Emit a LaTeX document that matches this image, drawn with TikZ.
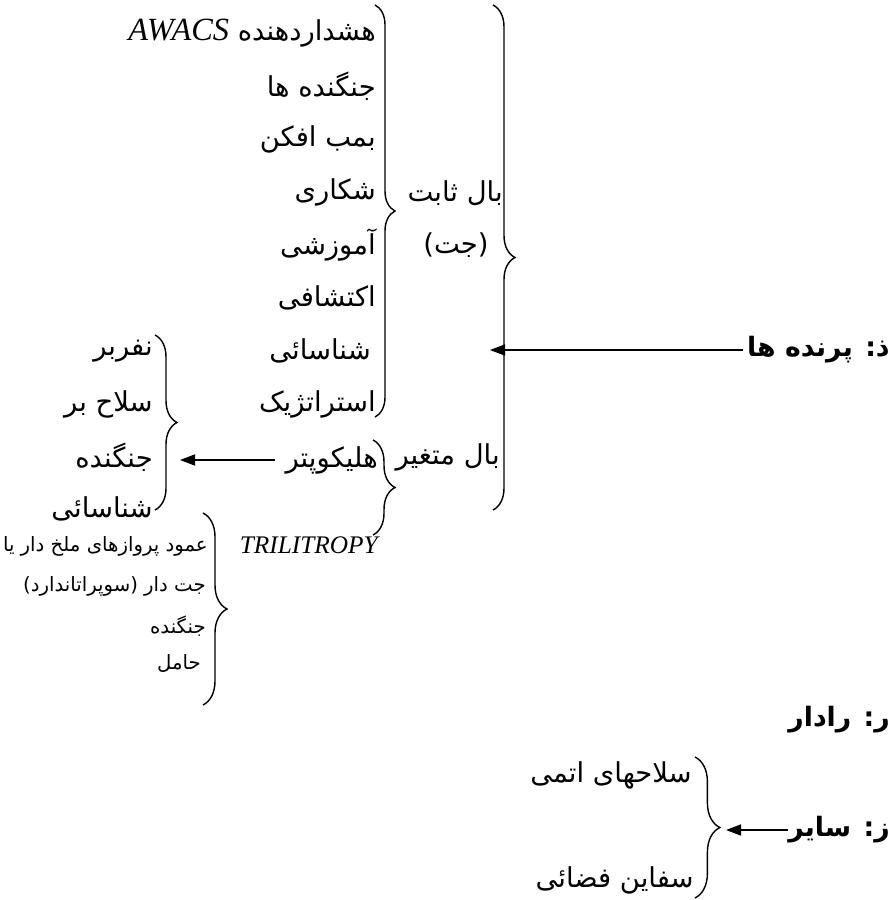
\documentclass[tikz,border=0pt]{standalone}
\usepackage{fontspec}
\usetikzlibrary{decorations.pathreplacing,arrows.meta}
\TeXXeTstate=1
\newfontfamily\fa[Script=Arabic]{DejaVu Sans}
\newfontfamily\latin{Liberation Serif}
\newcommand{\rl}[1]{\beginR #1\endR}
\tikzset{
  item/.style={font=\fa\fontsize{19.5}{22}\selectfont,inner sep=0pt,anchor=east},
  smallitem/.style={font=\fa\fontsize{14}{17}\selectfont,inner sep=0pt,anchor=east},
  head/.style={font=\fa\bfseries\fontsize{19}{22}\selectfont,inner sep=0pt,anchor=east},
  brc/.style={decorate,decoration={brace,amplitude=#1},line width=1pt},
  brc/.default=0.55cm,
  arr/.style={-{Triangle[length=0.38cm,width=0.28cm]},line width=1pt}
}
\begin{document}
\begin{tikzpicture}[x=0.025cm,y=-0.025cm]
        \useasboundingbox (0,0) rectangle (892,900);

        %% braces
        \draw[brc] (493,5) -- (493,510);
        \draw[brc=0.5cm] (375,5) -- (375,417);
        \draw[brc] (373,440) -- (373,535);
        \draw[brc] (155,335) -- (155,510);
        \draw[brc=0.6cm] (203,513) -- (203,705);
        \draw[brc=0.62cm] (695,757) -- (695,898);

        %% fixed wing
        \node (awacs) at (376,33) [item] {\rl{هشداردهنده \beginL{\latin\itshape\fontsize{23}{25}\selectfont AWACS}\endL}};
        \node (fighters) at (376,86) [item] {\rl{جنگنده ها}};
        \node (bomber) at (376,139) [item] {\rl{بمب افکن}};
        \node (hunter) at (376,192) [item] {\rl{شکاری}};
        \node (trainer) at (376,245) [item] {\rl{آموزشی}};
        \node (explore) at (376,298) [item] {\rl{اکتشافی}};
        \node (recon) at (371,351) [item] {\rl{شناسائی}};
        \node (strategic) at (376,404) [item] {\rl{استراتژیک}};
        \node (fixed) at (503,193) [item] {\rl{بال ثابت}};
        \node (jet) at (456,245) [item,anchor=center] {\rl{(جت)}};

        %% rotary wing
        \node (heli) at (378,460) [item] {\rl{هلیکوپتر}};
        \node (rotary) at (500,457) [item] {\rl{بال متغیر}};
        \node (trili) at (378,545) [inner sep=0pt,anchor=east,font=\latin\itshape\fontsize{18}{20}\selectfont] {TRILITROPY};

        %% helicopter kinds
        \node (carrier) at (153,351) [item] {\rl{نفربر}};
        \node (armed) at (153,404) [item] {\rl{سلاح بر}};
        \node (hfighter) at (153,457) [item] {\rl{جنگنده}};
        \node (hrecon) at (153,509) [item] {\rl{شناسائی}};

        %% vertical take-off
        \node (vtol) at (208,546) [smallitem] {\rl{عمود پروازهای ملخ دار یا}};
        \node (jetdar) at (206,586) [smallitem] {\rl{جت دار (سوپراتاندارد)}};
        \node (vfighter) at (206,626) [smallitem] {\rl{جنگنده}};
        \node (bearer) at (201,664) [smallitem] {\rl{حامل}};

        %% headings
        \node (dhal) at (890,350) [head] {\rl{ذ: پرنده ها}};
        \node (radar) at (890,720) [head] {\rl{ر: رادار}};
        \node (zayer) at (890,830) [head] {\rl{ز: سایر}};
        \node (atomic) at (692,775) [item] {\rl{سلاحهای اتمی}};
        \node (space) at (694,880) [item] {\rl{سفاین فضائی}};

        %% arrows
        \coordinate (dhaltip) at (490,350);
        \coordinate (helitip) at (180,460);
        \coordinate (zayertip) at (726,830);
        \draw[arr,shorten <=0.1cm] (dhal.west) -- (dhaltip);
        \draw[arr,shorten <=0.25cm] (heli.west) -- (helitip);
        \draw[arr] (zayer.west) -- (zayertip);
      \end{tikzpicture}
\end{document}
